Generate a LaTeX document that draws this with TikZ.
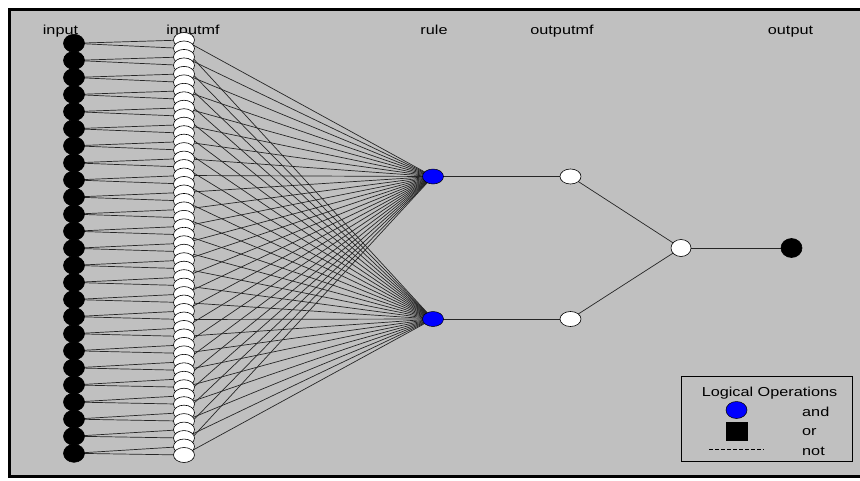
\documentclass[tikz,border=0pt]{standalone}
\usepackage{fontspec}
\setmainfont{Liberation Sans}
\usetikzlibrary{shapes.geometric}
\pgfdeclarelayer{bg}
\pgfdeclarelayer{edges}
\pgfsetlayers{bg,edges,main}
\newcommand\hs[1]{\scalebox{1.25}[1]{#1}}
\definecolor{panel}{RGB}{192,192,192}
\definecolor{ruleblue}{RGB}{0,0,255}
\begin{document}
\begin{tikzpicture}[x=1pt,y=-1pt,
  lbl/.style={font=\fontsize{13}{15}\selectfont, inner sep=0pt, anchor=base},
  lblw/.style={lbl, anchor=base west},
  innode/.style={ellipse, draw=black, fill=black, minimum width=21pt, minimum height=18pt, inner sep=0pt, line width=0.6pt},
  mfnode/.style={ellipse, draw=black, fill=white, minimum width=21pt, minimum height=15pt, inner sep=0pt, line width=0.6pt},
  rulenode/.style={ellipse, draw=black, fill=ruleblue, minimum width=21pt, minimum height=15pt, inner sep=0pt, line width=0.5pt},
  aggnode/.style={ellipse, draw=black, fill=white, minimum width=20pt, minimum height=17pt, inner sep=0pt, line width=0.6pt},
  outnode/.style={ellipse, draw=black, fill=black, minimum width=21pt, minimum height=19pt, inner sep=0pt, line width=0.6pt},
  orbox/.style={rectangle, draw=black, fill=black, minimum width=21pt, minimum height=18pt, inner sep=0pt},
  legbox/.style={rectangle, draw=black, line width=0.8pt, minimum width=171pt, minimum height=85pt, inner sep=0pt},
  conn/.style={draw=black!85, line width=0.7pt}
]
\useasboundingbox (0,0) rectangle (860,480);
% panel and frame
\begin{pgfonlayer}{bg}
  \fill[white] (0,0) rectangle (860,480);
  \fill[panel] (8,8) rectangle (860,478);
  \fill[black] (8,8) rectangle (11,478);
  \fill[black] (8,8) rectangle (860,11);
  \fill[black] (8,475) rectangle (860,478);
\end{pgfonlayer}

% column labels
\node[lbl] (tin)   at (60.5,34)  {\hs{input}};
\node[lbl] (tmf)   at (193,34)   {\hs{inputmf}};
\node[lbl] (trule) at (434,34)   {\hs{rule}};
\node[lbl] (tomf)  at (562,34)   {\hs{outputmf}};
\node[lbl] (tout)  at (790.5,34) {\hs{output}};

% input nodes
\foreach \i in {0,...,24} {
  \node[innode] (in\i) at (74,{43.3+17.083*\i}) {};
}
% input membership nodes
\foreach \j in {0,...,49} {
  \node[mfnode] (mf\j) at (184,{40+8.469*\j}) {};
}
% rules, output mfs, aggregation, output
\node[rulenode] (r1) at (433,176.5) {};
\node[rulenode] (r2) at (433,319) {};
\node[mfnode] (o1) at (570.5,176.5) {};
\node[mfnode] (o2) at (570.5,319) {};
\node[aggnode] (agg) at (681,248) {};
\node[outnode] (out) at (791.5,248) {};

% connectors
\begin{pgfonlayer}{edges}
  \foreach \i in {0,...,24} {
    \pgfmathtruncatemacro\ja{2*\i}
    \pgfmathtruncatemacro\jb{2*\i+1}
    \draw[conn] (in\i.center) -- (mf\ja.center);
    \draw[conn] (in\i.center) -- (mf\jb.center);
    \draw[conn] (mf\ja.center) -- (r1.center);
    \draw[conn] (mf\jb.center) -- (r2.center);
  }
  \draw[conn] (r1.center) -- (o1.center);
  \draw[conn] (r2.center) -- (o2.center);
  \draw[conn] (o1.center) -- (agg.center);
  \draw[conn] (o2.center) -- (agg.center);
  \draw[conn] (agg.center) -- (out.center);
\end{pgfonlayer}

% legend
\node[legbox] (leg) at (767.3,419.2) {};
\node[lbl] (legt) at (769.5,396.7) {\hs{Logical Operations}};
\node[rulenode, minimum height=17pt] (legand) at (736.5,410) {};
\node[orbox] (legor) at (736.5,431) {};
\coordinate (dA) at (709,449);
\coordinate (dB) at (764,449);
\draw[black, line width=0.7pt, dash pattern=on 4pt off 2pt] (dA) -- (dB);
\node[lblw] (tand) at (802,416.5) {\hs{and}};
\node[lblw] (tor)  at (802,435.5) {\hs{or}};
\node[lblw] (tnot) at (802,455) {\hs{not}};
\end{tikzpicture}
\end{document}
